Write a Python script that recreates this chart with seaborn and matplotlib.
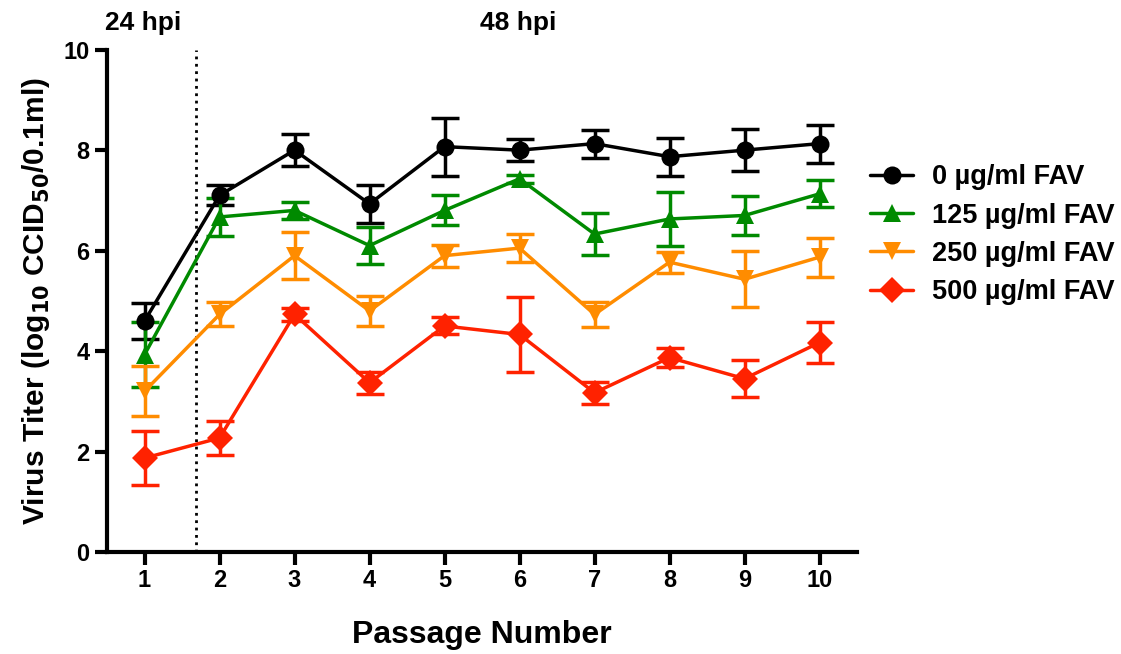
import numpy as np
import pandas as pd
import matplotlib
matplotlib.use("Agg")
import matplotlib.pyplot as plt
import seaborn as sns

# Données (titre viral log10 CCID50/0.1ml)
passages = [1, 2, 3, 4, 5, 6, 7, 8, 9, 10]
doses = ["0 µg/ml FAV", "125 µg/ml FAV", "250 µg/ml FAV", "500 µg/ml FAV"]

titre_0 = [4.60, 7.10, 8.00, 6.93, 8.07, 8.00, 8.13, 7.87, 8.00, 8.13]
err_0 = [0.35, 0.20, 0.32, 0.38, 0.58, 0.22, 0.28, 0.38, 0.42, 0.38]
titre_125 = [3.93, 6.67, 6.80, 6.10, 6.80, 7.43, 6.33, 6.63, 6.70, 7.13]
err_125 = [0.64, 0.38, 0.17, 0.37, 0.30, 0.08, 0.41, 0.54, 0.38, 0.27]
titre_250 = [3.20, 4.73, 5.90, 4.80, 5.90, 6.05, 4.73, 5.77, 5.43, 5.87]
err_250 = [0.50, 0.24, 0.47, 0.30, 0.22, 0.28, 0.25, 0.21, 0.56, 0.39]
titre_500 = [1.87, 2.27, 4.73, 3.37, 4.50, 4.33, 3.17, 3.87, 3.45, 4.17]
err_500 = [0.53, 0.33, 0.13, 0.22, 0.17, 0.75, 0.22, 0.19, 0.37, 0.41]

couleurs = ["#000000", "#008a00", "#ff8c00", "#ff2200"]
marqueurs = ["o", "^", "v", "D"]

titres = [titre_0, titre_125, titre_250, titre_500]
erreurs = [err_0, err_125, err_250, err_500]

df = pd.DataFrame({
    "passage": passages * 4,
    "titre": sum(titres, []),
    "erreur": sum(erreurs, []),
    "dose": [d for d in doses for _ in passages],
})

sns.set_style("ticks")
plt.rcParams["font.family"] = ["Liberation Sans", "DejaVu Sans"]
plt.rcParams["font.weight"] = "bold"
for k in ["text.color", "axes.labelcolor", "axes.edgecolor", "xtick.color", "ytick.color"]:
    plt.rcParams[k] = "black"

fig = plt.figure(figsize=(11.21, 6.54), dpi=100)
ax = fig.add_axes([0.0955, 0.156, 0.669, 0.768])

# barres d'erreur
for dose, c in zip(doses, couleurs):
    sub = df[df["dose"] == dose]
    ax.errorbar(sub["passage"], sub["titre"], yerr=sub["erreur"], fmt="none",
                ecolor=c, elinewidth=2.5, capsize=10, capthick=2.5, zorder=2)

sns.lineplot(data=df, x="passage", y="titre", hue="dose", style="dose",
             hue_order=doses, style_order=doses, palette=couleurs,
             markers=marqueurs, dashes=False, markersize=13, linewidth=2.5,
             markeredgewidth=0, ax=ax, zorder=3)

ax.axvline(1.68, color="black", linestyle=":", linewidth=2)

ax.set_xlim(0.5, 10.5)
ax.set_ylim(0, 10)
ax.set_xticks(passages)
ax.set_yticks([0, 2, 4, 6, 8, 10])
ax.tick_params(axis="both", width=3, length=9, labelsize=17, direction="out")
for lab in ax.get_xticklabels() + ax.get_yticklabels():
    lab.set_fontweight("bold")
for s in ["left", "bottom"]:
    ax.spines[s].set_linewidth(3)
sns.despine(ax=ax)

ax.set_xlabel("Passage Number", fontsize=23, fontweight="bold", labelpad=20)
ax.set_ylabel(r"Virus Titer (log$_{\mathbf{10}}$ CCID$_{\mathbf{50}}$/0.1ml)",
              fontsize=21.5, fontweight="bold", labelpad=8)

fig.text(0.128, 0.965, "24 hpi", fontsize=19, fontweight="bold", ha="center", va="center")
fig.text(0.462, 0.965, "48 hpi", fontsize=19, fontweight="bold", ha="center", va="center")

leg = ax.legend(loc="upper left", bbox_to_anchor=(0.985, 0.82), frameon=False,
                handlelength=1.6, labelspacing=0.45, handletextpad=0.7,
                prop={"weight": "bold", "size": 19.5})

fig.savefig("out.png", dpi=100)
